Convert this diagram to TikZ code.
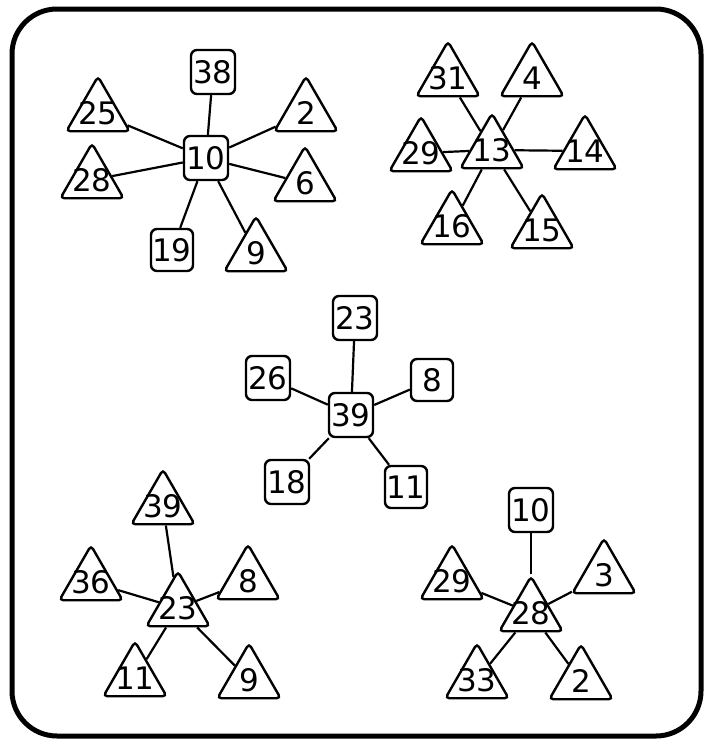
\documentclass[tikz,border=0pt]{standalone}
\usepackage{fontspec}
\setmainfont{DejaVu Sans}
\usetikzlibrary{shapes.geometric}
\tikzset{
  numfont/.style={font=\fontsize{31}{31}\selectfont},
  tri/.style={regular polygon, regular polygon sides=3, draw, line width=2.4pt,
    minimum size=73pt, inner sep=0pt, rounded corners=4pt,
    label={[numfont, inner sep=0pt]center:#1}},
  sq/.style={draw, line width=2.4pt, rounded corners=6pt, minimum size=44pt,
    inner sep=0pt, numfont},
  sqs/.style={sq, minimum size=42pt},
  edge/.style={line width=2.2pt},
  frame/.style={line width=5pt, rounded corners=45pt}
}
\begin{document}
\begin{tikzpicture}[x=1pt, y=-1pt]
\useasboundingbox (0,0) rectangle (705,745);
\draw[frame] (12,9) rectangle (701,736);

% cluster 1
\node[sq] (a38) at (213,72) {38};
\node[sq] (a10) at (206,158) {10};
\node[sqs] (a19) at (172,250) {19};
\node[tri=25] (a25) at (98,113) {};
\node[tri=2] (a2) at (306,113) {};
\node[tri=28] (a28) at (92,180) {};
\node[tri=6] (a6) at (305,183) {};
\node[tri=9] (a9) at (256,253) {};
\foreach \n in {a38,a19,a25,a2,a28,a6,a9} \draw[edge] (a10) -- (\n);

% cluster 2
\node[tri=13] (b13) at (492,150) {};
\node[tri=31] (b31) at (448,78) {};
\node[tri=4] (b4) at (532,78) {};
\node[tri=29] (b29) at (421,153) {};
\node[tri=14] (b14) at (585,151) {};
\node[tri=16] (b16) at (452,226) {};
\node[tri=15] (b15) at (542,230) {};
\foreach \n in {b31,b4,b29,b14,b16,b15} \draw[edge] (b13) -- (\n);

% cluster 3
\node[sq] (c39) at (351,415) {39};
\node[sq] (c23) at (355,318) {23};
\node[sq] (c26) at (268,378) {26};
\node[sqs] (c8) at (432,380) {8};
\node[sq] (c18) at (287,482) {18};
\node[sqs] (c11) at (406,487) {11};
\foreach \n in {c23,c26,c8,c18,c11} \draw[edge] (c39) -- (\n);

% cluster 4
\node[tri=23] (d23) at (178,608) {};
\node[tri=39] (d39) at (163,506) {};
\node[tri=36] (d36) at (91,582) {};
\node[tri=8] (d8) at (248,581) {};
\node[tri=11] (d11) at (135,678) {};
\node[tri=9] (d9) at (249,680) {};
\foreach \n in {d39,d36,d8,d11,d9} \draw[edge] (d23) -- (\n);

% cluster 5
\node[tri=28] (e28) at (531,613) {};
\node[sq] (e10) at (531,510) {10};
\node[tri=29] (e29) at (452,581) {};
\node[tri=3] (e3) at (604,575) {};
\node[tri=33] (e33) at (477,680) {};
\node[tri=2] (e2) at (581,681) {};
\foreach \n in {e10,e29,e3,e33,e2} \draw[edge] (e28) -- (\n);
\end{tikzpicture}
\end{document}
